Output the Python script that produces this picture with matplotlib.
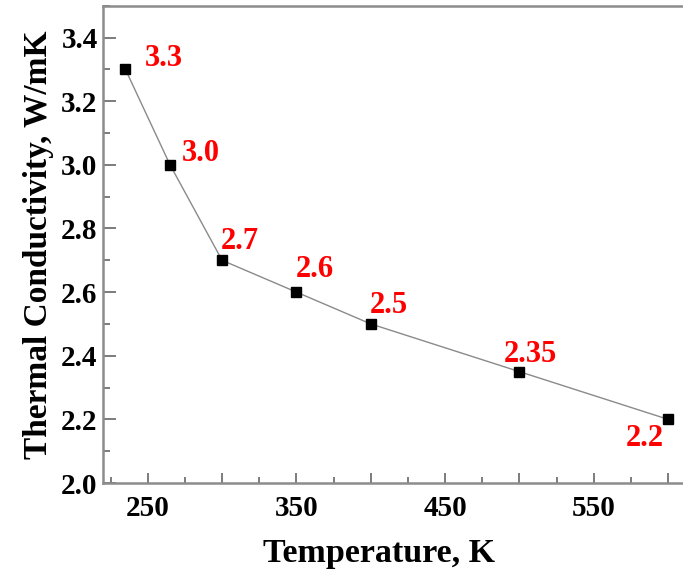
import matplotlib
matplotlib.use("Agg")
import matplotlib.pyplot as plt
from matplotlib.ticker import MultipleLocator, FuncFormatter

# data
temps = [235, 265, 300, 350, 400, 500, 600]
kappa = [3.3, 3.0, 2.7, 2.6, 2.5, 2.35, 2.2]
labels = ["3.3", "3.0", "2.7", "2.6", "2.5", "2.35", "2.2"]
# label offsets in points
offsets = [(27.5, 7.5), (22, 8), (13, 13.5), (13, 16), (13, 13.5), (8, 12.5), (-17, -14)]

plt.rcParams['font.family'] = ['Liberation Serif', 'DejaVu Serif']

fig = plt.figure(figsize=(6.83, 5.75), dpi=100)
ax = fig.add_axes([0.151, 0.16, 0.849, 0.83])

ax.plot(temps, kappa, color="#8a8a8a", lw=1.0, marker="s", ms=6.5,
        mfc="black", mec="black", zorder=3)

for t, k, s, off in zip(temps, kappa, labels, offsets):
    ax.annotate(s, (t, k), xytext=off, textcoords="offset points",
                ha="center", va="center", color="red", fontsize=22,
                fontweight="bold")

ax.set_xlim(220, 610)
ax.set_ylim(2.0, 3.5)

ax.xaxis.set_major_locator(MultipleLocator(50))
ax.xaxis.set_minor_locator(MultipleLocator(25))
ax.xaxis.set_major_formatter(FuncFormatter(lambda v, p: "%d" % v if int(round(v)) % 100 == 50 else ""))
ax.yaxis.set_major_locator(MultipleLocator(0.2))
ax.yaxis.set_minor_locator(MultipleLocator(0.1))
ax.yaxis.set_major_formatter(FuncFormatter(lambda v, p: "%.1f" % v))

ax.tick_params(which="both", direction="in", color="#666666", width=1.2)
ax.tick_params(axis="x", which="major", length=7, pad=9, labelsize=21)
ax.tick_params(axis="x", which="minor", length=4)
ax.tick_params(axis="y", which="major", length=9, pad=4, labelsize=21)
ax.tick_params(axis="y", which="minor", length=5)
for lab in ax.get_xticklabels() + ax.get_yticklabels():
    lab.set_fontweight("bold")

for side in ["left", "top", "bottom"]:
    ax.spines[side].set_color("#8c8c8c")
    ax.spines[side].set_linewidth(1.8)
ax.spines["right"].set_visible(False)

ax.set_xlabel("Temperature, K", fontsize=24.5, fontweight="bold")
ax.xaxis.set_label_coords(0.476, -0.115)
ax.set_ylabel("Thermal Conductivity, W/mK", fontsize=24, fontweight="bold", labelpad=5)

fig.savefig("out.png", dpi=100)
